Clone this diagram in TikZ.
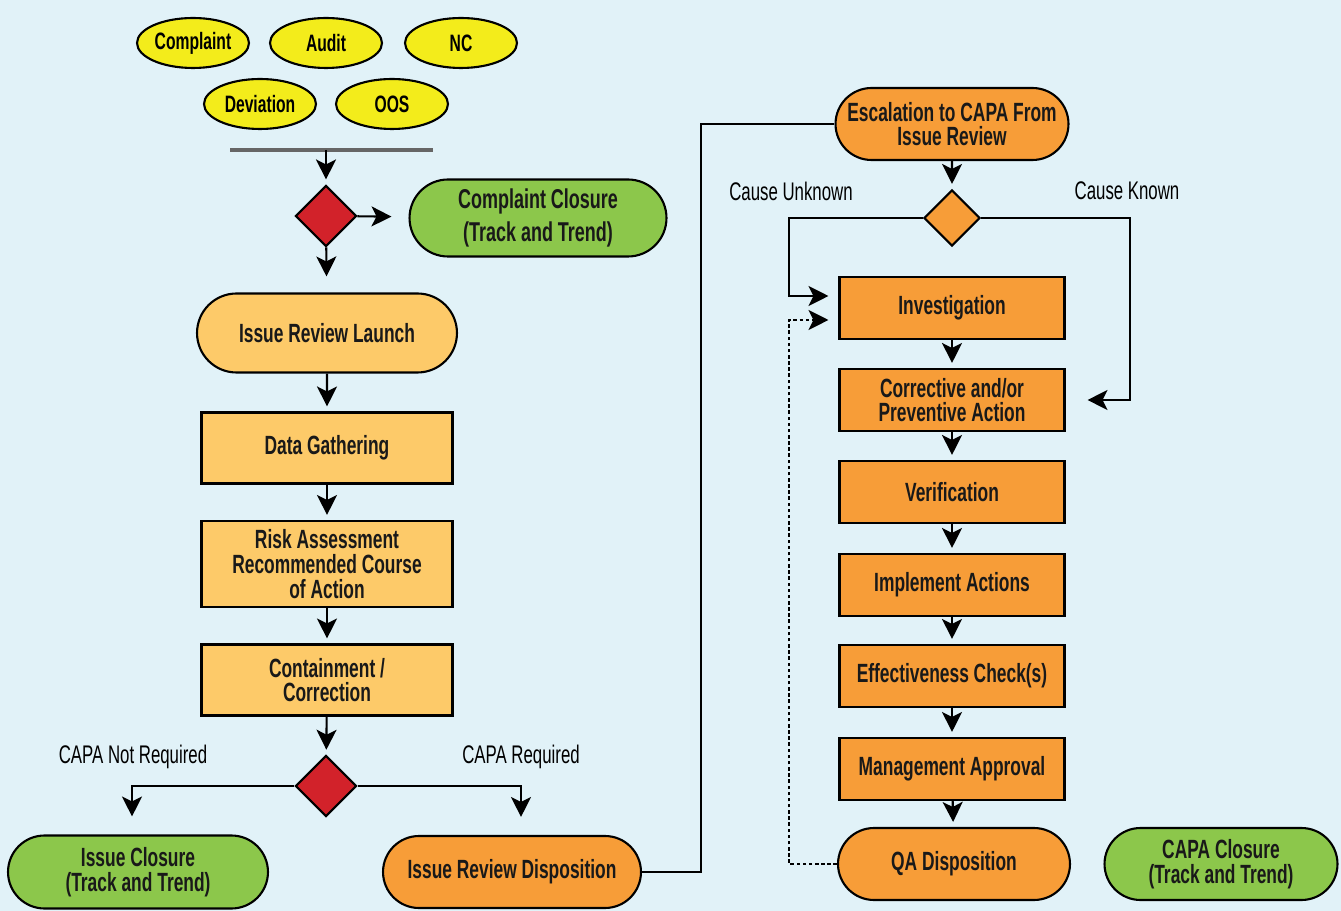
\documentclass[tikz,border=0pt]{standalone}
\usepackage{fontspec}
\setmainfont{Liberation Sans}[FakeStretch=0.66]
\usetikzlibrary{shapes,arrows.meta}
\definecolor{bgblue}{HTML}{E1F2F8}
\definecolor{srcyellow}{HTML}{F3EC1B}
\definecolor{boxorange}{HTML}{FDCA69}
\definecolor{capaorange}{HTML}{F79D38}
\definecolor{closegreen}{HTML}{8CC74B}
\definecolor{decred}{HTML}{D2222A}

\begin{document}
\begin{tikzpicture}[x=0.02cm,y=-0.02cm,
  txt/.style={font=\fontsize{15}{14}\selectfont\bfseries, text=black!90, align=center},
  src/.style={ellipse, draw, line width=1.2pt, fill=srcyellow, minimum width=2.24cm, minimum height=1cm, inner sep=0pt, font=\fontsize{13.5}{14}\selectfont\bfseries},
  pill/.style={txt, rounded rectangle, draw, line width=1.2pt, inner sep=0pt},
  box/.style={txt, rectangle, draw, line width=1.2pt, inner sep=0pt},
  dec/.style={diamond, draw, line width=1.2pt, inner sep=0pt, aspect=1},
  lbl/.style={font=\fontsize{14.5}{15}\selectfont, text=black},
  arr/.style={-{Stealth[length=0.4cm,width=0.4cm,inset=0.1cm]}, line width=1.2pt, shorten >=0.1cm},
  link/.style={line width=1.2pt}]

\fill[bgblue] (0,0) rectangle (1341,911);
\useasboundingbox (0,0) rectangle (1341,911);

% sources
\node[src] (COMP) at (193,43) {Complaint};
\node[src] (AUD) at (326,43) {Audit};
\node[src] (NC) at (461,43) {NC};
\node[src] (DEV) at (260,104) {Deviation};
\node[src] (OOS) at (392,104) {OOS};
\coordinate (BARL) at (230,150);
\coordinate (BARR) at (433,150);
\coordinate (BARM) at (326,150);
\draw[line width=2pt, black!60] (BARL) -- (BARR);

% issue review
\node[dec, fill=decred, minimum size=1.22cm] (D1) at (326,216) {};
\node[pill, fill=closegreen, minimum width=5.14cm, minimum height=1.54cm, font=\fontsize{15.5}{19}\selectfont\bfseries] (CCL) at (538,218) {Complaint Closure\\(Track and Trend)};
\node[pill, fill=boxorange, minimum width=5.2cm, minimum height=1.58cm] (IRL) at (327,333) {Issue Review Launch};
\node[box, fill=boxorange, minimum width=5.02cm, minimum height=1.42cm] (DG) at (327,448) {Data Gathering};
\node[box, fill=boxorange, minimum width=5.02cm, minimum height=1.72cm] (RA) at (327,564) {Risk Assessment\\Recommended Course\\of Action};
\node[box, fill=boxorange, minimum width=5.02cm, minimum height=1.42cm] (CC) at (327,680) {Containment /\\Correction};
\node[dec, fill=decred, minimum size=1.22cm] (D2) at (326,786) {};
\node[lbl] (CNR) at (133,757) {CAPA Not Required};
\node[lbl] (CR) at (521,757) {CAPA Required};
\node[pill, fill=closegreen, minimum width=5.2cm, minimum height=1.46cm] (IC) at (138,872) {Issue Closure\\(Track and Trend)};
\node[pill, fill=capaorange, minimum width=5.16cm, minimum height=1.44cm] (IRD) at (512,872) {Issue Review Disposition};

\draw[arr] (BARM) -- (D1);
\draw[arr, shorten >=0.34cm] (D1) -- (CCL);
\draw[arr, shorten >=0.32cm] (D1) -- (IRL);
\draw[arr] (IRL) -- (DG);
\draw[arr] (DG) -- (RA);
\draw[arr] (RA) -- (CC);
\draw[arr] (CC) -- (D2);
\draw[arr, shorten >=0.36cm] (D2.west) -| ([xshift=-0.12cm]IC.north);
\draw[arr, shorten >=0.36cm] (D2.east) -| ([xshift=0.18cm]IRD.north);

% capa
\node[pill, fill=capaorange, minimum width=4.66cm, minimum height=1.44cm] (ESC) at (952,124) {Escalation to CAPA From\\Issue Review};
\node[dec, fill=capaorange, minimum size=1.12cm] (D3) at (952,218) {};
\node[lbl] (CU) at (791,191) {Cause Unknown};
\node[lbl] (CK) at (1127,191) {Cause Known};
\node[box, fill=capaorange, minimum width=4.5cm, minimum height=1.24cm] (INV) at (952,308) {Investigation};
\node[box, fill=capaorange, minimum width=4.5cm, minimum height=1.24cm] (CPA) at (952,400) {Corrective and/or\\Preventive Action};
\node[box, fill=capaorange, minimum width=4.5cm, minimum height=1.24cm] (VER) at (952,492) {Verification};
\node[box, fill=capaorange, minimum width=4.5cm, minimum height=1.24cm] (IMP) at (952,585) {Implement Actions};
\node[box, fill=capaorange, minimum width=4.5cm, minimum height=1.24cm] (EFF) at (952,676) {Effectiveness Check(s)};
\node[box, fill=capaorange, minimum width=4.5cm, minimum height=1.24cm] (MGT) at (952,769) {Management Approval};
\node[pill, fill=capaorange, minimum width=4.64cm, minimum height=1.44cm] (QA) at (954,864) {QA Disposition};
\node[pill, fill=closegreen, minimum width=4.66cm, minimum height=1.44cm] (CAPC) at (1221,864) {CAPA Closure\\(Track and Trend)};

\draw[link] (IRD.east) -- ++(59,0) |- (ESC.west);
\draw[arr] (ESC) -- (D3);
\draw[arr, shorten >=0.2cm] (D3.west) -- ++(-134,0) |- ([yshift=0.24cm]INV.west);
\draw[arr, shorten >=0.44cm] (D3.east) -- ++(149,0) |- (CPA.east);
\draw[arr, line width=0.9pt, dash pattern=on 2pt off 1.5pt, shorten >=0.2cm] (QA.west) -- ++(-48,0) |- ([yshift=-0.24cm]INV.west);
\draw[arr] (INV) -- (CPA);
\draw[arr] (CPA) -- (VER);
\draw[arr] (VER) -- (IMP);
\draw[arr] (IMP) -- (EFF);
\draw[arr] (EFF) -- (MGT);
\draw[arr] (MGT) -- (QA);
\end{tikzpicture}
\end{document}
